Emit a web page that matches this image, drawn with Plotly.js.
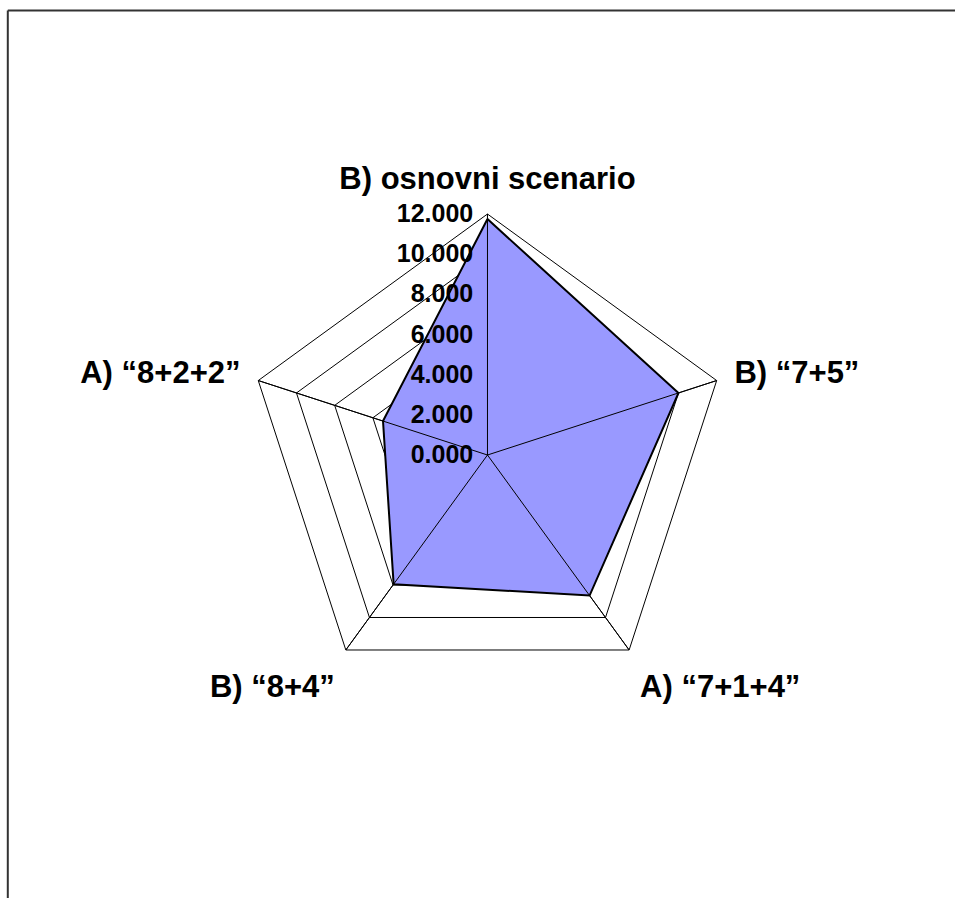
<!DOCTYPE html>
<html>
<head>
<meta charset="utf-8">
<script src="https://cdn.plot.ly/plotly-3.0.1.min.js"></script>
<style>
html,body{margin:0;padding:0;background:#fff;}
#chart{width:955px;height:898px;}
</style>
</head>
<body>
<div id="chart"></div>
<script>
var categories = ['B) osnovni scenario', 'B) “7+5”', 'A) “7+1+4”', 'B) “8+4”', 'A) “8+2+2”'];
var values = [11.75, 10.0, 8.65, 7.95, 5.47];
var radialTicks = [0, 2, 4, 6, 8, 10, 12];
var radialMax = 12;

var closedTheta = categories.concat([categories[0]]);
var closedR = values.concat([values[0]]);

// spokes drawn over the fill
var spokeR = [], spokeTheta = [];
categories.forEach(function (c) {
  spokeR.push(0, radialMax, null);
  spokeTheta.push(c, c, null);
});

var font = "Arial, 'Liberation Sans', sans-serif";

var data = [
  {
    type: 'scatterpolar',
    r: closedR,
    theta: closedTheta,
    mode: 'lines',
    fill: 'toself',
    fillcolor: '#9999FF',
    line: {color: '#000000', width: 2},
    hoverinfo: 'r+theta',
    showlegend: false
  },
  {
    type: 'scatterpolar',
    r: spokeR,
    theta: spokeTheta,
    mode: 'lines',
    line: {color: '#000000', width: 1},
    hoverinfo: 'skip',
    showlegend: false
  }
];

var layout = {
  width: 955,
  height: 898,
  margin: {l: 0, r: 0, t: 0, b: 0},
  paper_bgcolor: '#ffffff',
  showlegend: false,
  font: {family: font, color: '#000000'},
  polar: {
    domain: {x: [0.2581, 0.7628], y: [0.2249, 0.7617]},
    bgcolor: 'rgba(0,0,0,0)',
    gridshape: 'linear',
    radialaxis: {
      range: [0, radialMax],
      tickvals: radialTicks,
      tickformat: '.3f',
      angle: 90,
      side: 'counterclockwise',
      tickangle: 90,
      showline: false,
      ticks: 'outside',
      ticklen: 5,
      tickcolor: 'rgba(0,0,0,0)',
      gridcolor: '#000000',
      gridwidth: 1,
      tickfont: {family: font, size: 25, color: '#000000', weight: 'bold'}
    },
    angularaxis: {
      direction: 'clockwise',
      rotation: 90,
      ticks: 'outside',
      ticklen: 12,
      tickcolor: 'rgba(0,0,0,0)',
      showline: true,
      linecolor: '#000000',
      linewidth: 1,
      gridcolor: '#000000',
      gridwidth: 1,
      tickfont: {family: font, size: 31, color: '#000000', weight: 'bold'}
    }
  },
  shapes: [
    {type: 'line', xref: 'paper', yref: 'paper', x0: 7.8/955, x1: 7.8/955, y0: 0, y1: (898-10.5)/898,
     line: {color: '#333333', width: 2}},
    {type: 'line', xref: 'paper', yref: 'paper', x0: 7.8/955, x1: 1, y0: (898-10.5)/898, y1: (898-10.5)/898,
     line: {color: '#333333', width: 2}}
  ]
};

Plotly.newPlot('chart', data, layout, {staticPlot: true, displayModeBar: false});
</script>
</body>
</html>
